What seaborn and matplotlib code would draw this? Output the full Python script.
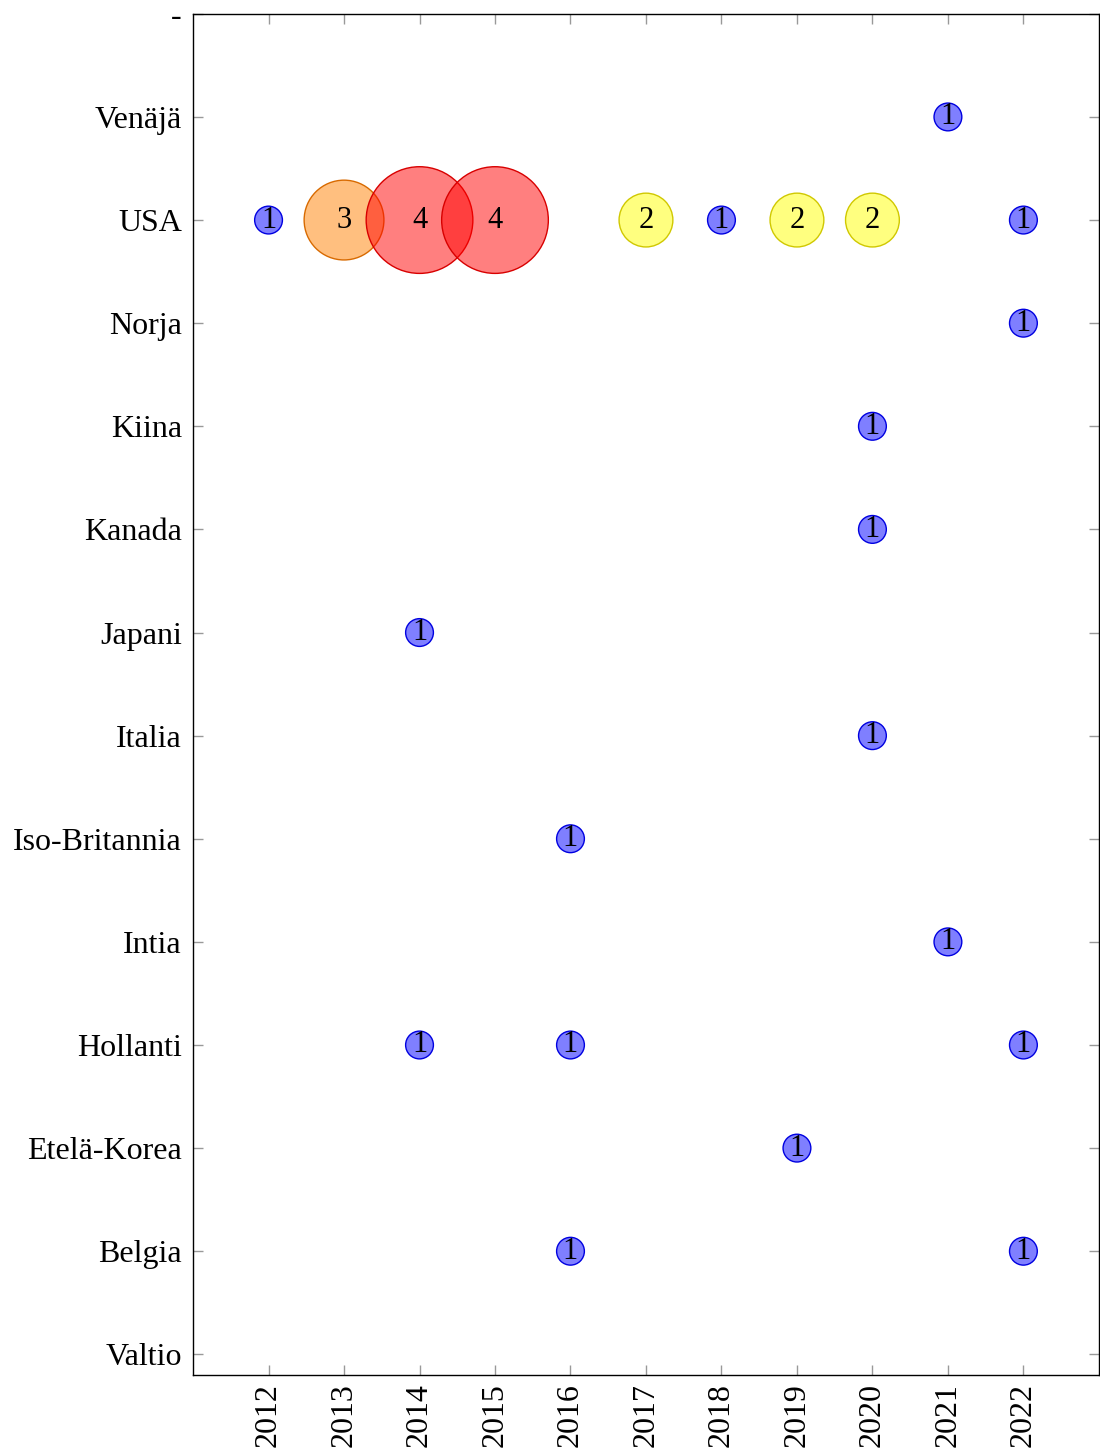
import matplotlib
matplotlib.use('Agg')
import matplotlib.pyplot as plt
import matplotlib.colors as mcolors
import numpy as np
import seaborn as sns
import pandas as pd

# categories bottom -> top
countries = ['Valtio', 'Belgia', 'Etelä-Korea', 'Hollanti', 'Intia', 'Iso-Britannia',
             'Italia', 'Japani', 'Kanada', 'Kiina', 'Norja', 'USA', 'Venäjä', '-']
years = list(range(2012, 2023))

# bubbles: country, year, count
pt_country = ['USA', 'USA', 'USA', 'USA', 'USA', 'USA', 'USA', 'USA', 'USA',
              'Venäjä', 'Norja', 'Kiina', 'Kanada', 'Japani', 'Italia',
              'Iso-Britannia', 'Intia', 'Hollanti', 'Hollanti', 'Hollanti',
              'Etelä-Korea', 'Belgia', 'Belgia']
pt_year = [2012, 2013, 2014, 2015, 2017, 2018, 2019, 2020, 2022,
           2021, 2022, 2020, 2020, 2014, 2020,
           2016, 2021, 2014, 2016, 2022,
           2019, 2016, 2022]
pt_count = [1, 3, 4, 4, 2, 1, 2, 2, 1,
            1, 1, 1, 1, 1, 1,
            1, 1, 1, 1, 1,
            1, 1, 1]

# colour per count: (base colour, edge colour)
count_colors = {1: ('#0000ff', '#0000e0'),
                2: ('#ffff00', '#d0c800'),
                3: ('#ff8000', '#d86a00'),
                4: ('#ff0000', '#d80000')}
count_sizes = {1: 400, 2: 1500, 3: 3300, 4: 5900}

sns.set_style('ticks')
plt.rcParams['font.family'] = ['Liberation Serif', 'DejaVu Serif']
plt.rcParams['text.color'] = 'black'

df = pd.DataFrame({'country': pt_country, 'year': pt_year, 'count': pt_count})
df['ypos'] = df['country'].map({c: i for i, c in enumerate(countries)})

fig = plt.figure(figsize=(11, 14.55), dpi=100)
ax = fig.add_axes([0.1755, 0.055, 0.8235, 0.9355])

sns.scatterplot(data=df, x='year', y='ypos', size='count', sizes=count_sizes,
                legend=False, ax=ax, zorder=3)

coll = ax.collections[0]
face = [mcolors.to_rgba(count_colors[c][0], 0.5) for c in df['count']]
edge = [mcolors.to_rgba(count_colors[c][1], 1.0) for c in df['count']]
coll.set_facecolor(face)
coll.set_edgecolor(edge)
coll.set_linewidth(1.0)

for _, row in df.iterrows():
    ax.text(row['year'], row['ypos'], str(row['count']), ha='center', va='center',
            fontsize=22, color='black', zorder=4)

ax.set_xlim(2011, 2023)
ax.set_ylim(-0.2, 13)
ax.set_xticks(years)
ax.set_xticklabels([str(y) for y in years], rotation=90, fontsize=23)
ax.set_yticks(range(len(countries)))
ax.set_yticklabels(countries, fontsize=23)
ax.set_xlabel('')
ax.set_ylabel('')

ax.tick_params(axis='both', direction='in', length=7, width=1, color='#999999',
               labelcolor='black', top=True, right=True,
               labeltop=False, labelright=False)
ax.tick_params(axis='y', pad=8)
ax.tick_params(axis='x', pad=6)
for sp in ax.spines.values():
    sp.set_visible(True)
    sp.set_linewidth(1.0)
    sp.set_color('black')

plt.savefig('out.png', dpi=100)
